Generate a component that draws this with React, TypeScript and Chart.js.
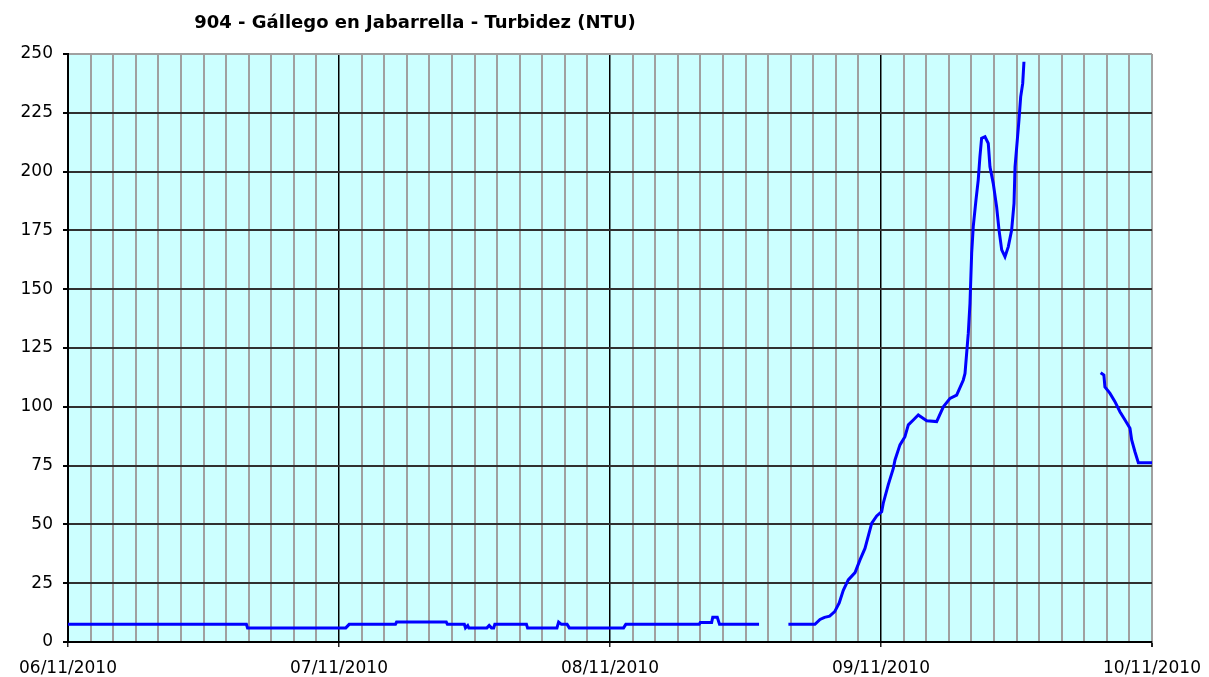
import { useEffect, useRef } from 'react';
import { Chart, registerables } from 'chart.js';

Chart.register(...registerables);

const titleText = '904 - Gállego en Jabarrella - Turbidez (NTU)';
const dayLabels = ['06/11/2010', '07/11/2010', '08/11/2010', '09/11/2010', '10/11/2010'];
const hoursPerDay = 24;
const xMax = 96;
const xStep = 2;
const yMin = 0;
const yMax = 250;
const yStep = 25;

// Hours since 06/11/2010 00:00 and turbidity (NTU)
const seg1Hours = [0, 15.8, 15.9, 24.6, 24.9, 29.0, 29.1, 33.5, 33.6, 35.1, 35.2, 35.4, 35.5, 37.1, 37.3, 37.5, 37.7, 37.8, 40.6, 40.7, 43.3, 43.45, 43.7, 44.2, 44.4, 49.2, 49.4, 55.9, 56.0, 57.0, 57.1, 57.5, 57.7, 61.2];
const seg1Values = [7.5, 7.5, 6, 6, 7.5, 7.5, 8.5, 8.5, 7.5, 7.5, 6, 7, 6, 6, 7, 6, 6, 7.5, 7.5, 6, 6, 8.5, 7.5, 7.5, 6, 6, 7.5, 7.5, 8.3, 8.3, 10.5, 10.5, 7.5, 7.5];

const seg2Hours = [63.8, 66.15, 66.6, 67.0, 67.45, 67.9, 68.3, 68.66, 69.1, 69.7, 70.14, 70.58, 71.18, 71.62, 72.06, 72.2, 72.64, 73.09, 73.24, 73.68, 74.12, 74.42, 74.86, 75.3, 76.05, 76.93, 77.52, 78.11, 78.7, 79.29, 79.44, 79.73, 79.88, 80.03, 80.17, 80.41, 80.61, 80.76, 80.91, 81.21, 81.5, 81.65, 81.94, 82.24, 82.45, 82.69, 82.98, 83.27, 83.57, 83.78, 83.87, 84.07, 84.22, 84.37, 84.55, 84.66];
const seg2Values = [7.5, 7.5, 9.6, 10.5, 11, 12.9, 16.6, 22, 26.4, 29.5, 34.9, 39.8, 50.5, 53.6, 55.4, 59, 66.8, 73.8, 77.4, 83.8, 87.3, 92.3, 94.4, 96.5, 94.1, 93.7, 100, 103.6, 105, 111.4, 114.2, 131.2, 144, 165.3, 176.6, 187.9, 196.4, 206.3, 214.2, 214.8, 212, 202, 195, 185, 175.2, 166.7, 163.8, 168, 175.2, 186.5, 202, 213.4, 222, 231.8, 237.5, 246.7];

const seg3Hours = [91.45, 91.74, 91.83, 92.28, 92.72, 93.16, 93.61, 94.05, 94.2, 94.49, 94.79, 96.0];
const seg3Values = [114.5, 113.5, 108.5, 105.7, 102.2, 97.9, 94.4, 90.9, 85.9, 80.9, 76.2, 76.2];

const toPoints = (hs: number[], vs: number[]) => hs.map((h, i) => ({ x: h, y: vs[i] as number | null }));

export default function App() {
  const canvasRef = useRef<HTMLCanvasElement | null>(null);

  useEffect(() => {
    document.body.style.margin = '0';
    const canvas = canvasRef.current;
    if (!canvas) return;

    const points = [
      ...toPoints(seg1Hours, seg1Values),
      { x: (seg1Hours[seg1Hours.length - 1] + seg2Hours[0]) / 2, y: null },
      ...toPoints(seg2Hours, seg2Values),
      { x: (seg2Hours[seg2Hours.length - 1] + seg3Hours[0]) / 2, y: null },
      ...toPoints(seg3Hours, seg3Values),
    ];

    const bgPlugin = {
      id: 'plotBg',
      beforeDraw(chart: any) {
        const { ctx, chartArea } = chart;
        ctx.save();
        ctx.fillStyle = '#ccffff';
        ctx.fillRect(chartArea.left, chartArea.top, chartArea.right - chartArea.left, chartArea.bottom - chartArea.top);
        ctx.restore();
      },
    };

    const titlePlugin = {
      id: 'customTitle',
      afterDraw(chart: any) {
        const { ctx } = chart;
        ctx.save();
        ctx.font = 'bold 18px "DejaVu Sans"';
        ctx.fillStyle = '#000';
        ctx.textAlign = 'center';
        ctx.textBaseline = 'middle';
        ctx.fillText(titleText, 415, 23);
        ctx.restore();
      },
    };

    const isMajor = (v: number) => v % hoursPerDay === 0 && v !== xMax;

    const chart = new Chart(canvas, {
      type: 'line',
      data: {
        datasets: [
          {
            data: points as any,
            borderColor: '#0000ff',
            borderWidth: 3,
            pointRadius: 0,
            fill: false,
            tension: 0,
            spanGaps: false,
          },
        ],
      },
      options: {
        responsive: false,
        animation: false,
        layout: { padding: { left: 0, top: 54, right: 57, bottom: 0 } },
        plugins: {
          legend: { display: false },
          tooltip: { enabled: false },
          title: { display: false },
        },
        scales: {
          x: {
            type: 'linear',
            min: 0,
            max: xMax,
            afterFit(scale: any) {
              scale.height = 35;
              scale.paddingLeft = 0;
              scale.paddingRight = 0;
            },
            ticks: {
              stepSize: xStep,
              autoSkip: false,
              maxRotation: 0,
              minRotation: 0,
              padding: 11,
              color: '#000',
              font: { family: 'DejaVu Sans', size: 17 },
              callback: (value: any) => {
                const v = Number(value);
                return v % hoursPerDay === 0 ? dayLabels[v / hoursPerDay] : '';
              },
            },
            grid: {
              color: (ctx: any) => (isMajor(ctx.tick?.value) ? '#000000' : '#a0a0a0'),
              lineWidth: (ctx: any) => (isMajor(ctx.tick?.value) ? 1.5 : 2),
              tickColor: (ctx: any) => (ctx.tick?.value % hoursPerDay === 0 ? '#222' : 'rgba(0,0,0,0)'),
              tickLength: 5,
              drawTicks: true,
            },
            border: { display: true, color: '#000', width: 2 },
          },
          y: {
            min: yMin,
            max: yMax,
            afterFit(scale: any) {
              scale.width = 68;
              scale.paddingTop = 0;
              scale.paddingBottom = 0;
            },
            ticks: {
              stepSize: yStep,
              padding: 10,
              color: '#000',
              font: { family: 'DejaVu Sans', size: 17 },
            },
            grid: {
              color: (ctx: any) => (ctx.tick?.value === yMax ? '#a0a0a0' : '#303030'),
              lineWidth: 2,
              tickColor: '#000',
              tickLength: 5,
            },
            border: { display: true, color: '#000', width: 2 },
          },
        },
      },
      plugins: [bgPlugin, titlePlugin],
    });

    return () => chart.destroy();
  }, []);

  return (
    <div style={{ position: 'relative', width: 1209, height: 677 }}>
      <canvas ref={canvasRef} width={1209} height={677} style={{ display: 'block' }} />
    </div>
  );
}
